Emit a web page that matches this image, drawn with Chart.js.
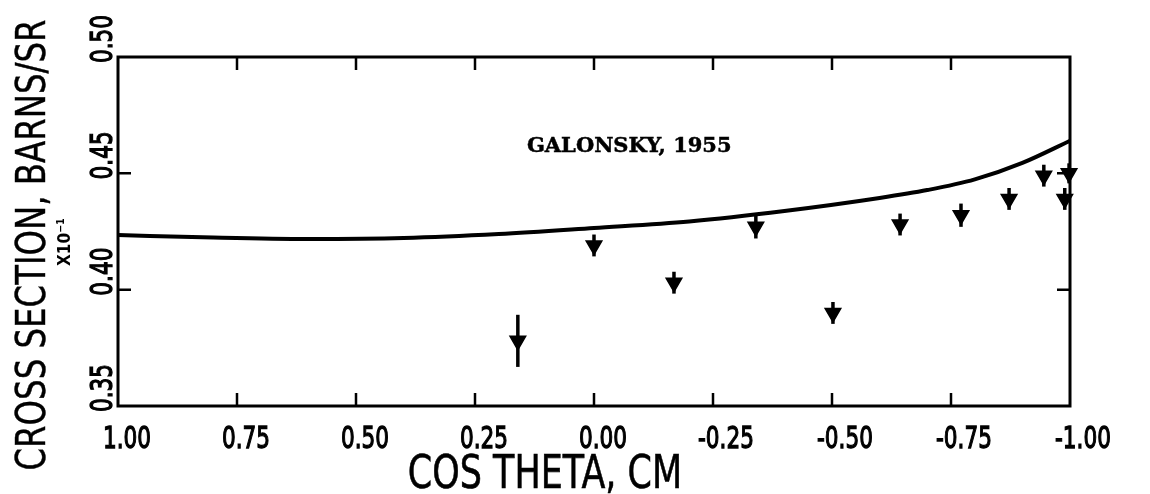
<!DOCTYPE html>
<html>
<head>
<meta charset="utf-8">
<script src="https://cdn.jsdelivr.net/npm/chart.js@4.4.1/dist/chart.umd.min.js"></script>
<style>
  html, body { margin: 0; padding: 0; background: #fff; }
  #galonskyChart { display: block; }
</style>
</head>
<body>
<canvas id="galonskyChart" width="1150" height="494"></canvas>
<script>
// Measured points (Galonsky, 1955)
let cosTheta = [0.16, 0.00, -0.168, -0.34, -0.502, -0.643, -0.771, -0.872, -0.945, -0.989, -0.998];
let crossSection = [0.378, 0.419, 0.403, 0.427, 0.390, 0.428, 0.432, 0.439, 0.449, 0.439, 0.450];
let crossSectionErr = [0.0112, 0.0047, 0.0047, 0.005, 0.0047, 0.0047, 0.005, 0.0047, 0.0047, 0.0047, 0.0043];

// Calculated curve
let curveCos = [1.0, 0.8, 0.6, 0.4, 0.2, 0.0, -0.2, -0.4, -0.6, -0.7, -0.8, -0.9, -1.0];
let curveValues = [0.4235, 0.4224, 0.4218, 0.4222, 0.4239, 0.4265, 0.4293, 0.4338, 0.4394, 0.4428, 0.4474, 0.4545, 0.4640];

// Axis ticks
let xTickValues = [1.00, 0.75, 0.50, 0.25, 0.00, -0.25, -0.50, -0.75, -1.00];
let xTickLabels = ["1.00", "0.75", "0.50", "0.25", "0.00", "-0.25", "-0.50", "-0.75", "-1.00"];
let yTickValues = [0.35, 0.40, 0.45, 0.50];
let yTickLabels = ["0.35", "0.40", "0.45", "0.50"];

let plotFont = '"DejaVu Sans", "Liberation Sans", sans-serif';

let drawLabel = (ctx, text, x, y, opts) => {
    ctx.save();
    ctx.translate(x, y);
    if (opts.rotate) ctx.rotate(opts.rotate);
    ctx.scale(opts.sx || 1, 1);
    ctx.font = opts.font;
    ctx.textAlign = opts.align || 'left';
    ctx.textBaseline = 'alphabetic';
    ctx.fillStyle = '#000';
    ctx.fillText(text, 0, 0);
    if (opts.stroke) {
        // thicken the strokes a little, like a plotter pen
        ctx.strokeStyle = '#000';
        ctx.lineWidth = opts.stroke;
        ctx.strokeText(text, 0, 0);
    }
    ctx.restore();
};

// error bars under the arrow heads
let errorBars = {
    id: 'errorBars',
    beforeDatasetsDraw: (chart) => {
        let ctx = chart.ctx;
        let x = chart.scales.x, y = chart.scales.y;
        ctx.save();
        ctx.strokeStyle = '#000';
        ctx.lineWidth = 3.5;
        cosTheta.forEach((c, i) => {
            let px = x.getPixelForValue(c);
            ctx.beginPath();
            ctx.moveTo(px, y.getPixelForValue(crossSection[i] + crossSectionErr[i]));
            ctx.lineTo(px, y.getPixelForValue(crossSection[i] - crossSectionErr[i]));
            ctx.stroke();
        });
        ctx.restore();
    }
};

// frame, inward ticks and all texts in the old plotter style
let plotterFrame = {
    id: 'plotterFrame',
    afterDraw: (chart) => {
        let ctx = chart.ctx;
        let a = chart.chartArea;
        let x = chart.scales.x, y = chart.scales.y;
        ctx.save();
        ctx.strokeStyle = '#000';
        ctx.lineWidth = 3;
        ctx.strokeRect(a.left, a.top, a.right - a.left, a.bottom - a.top);
        ctx.lineWidth = 2.5;
        xTickValues.slice(1, -1).forEach((v) => {
            let px = x.getPixelForValue(v);
            ctx.beginPath();
            ctx.moveTo(px, a.bottom); ctx.lineTo(px, a.bottom - 13);
            ctx.moveTo(px, a.top); ctx.lineTo(px, a.top + 13);
            ctx.stroke();
        });
        yTickValues.slice(1, -1).forEach((v) => {
            let py = y.getPixelForValue(v);
            ctx.beginPath();
            ctx.moveTo(a.left, py); ctx.lineTo(a.left + 13, py);
            ctx.moveTo(a.right, py); ctx.lineTo(a.right - 13, py);
            ctx.stroke();
        });
        ctx.restore();

        xTickValues.forEach((v, i) => {
            drawLabel(ctx, xTickLabels[i], x.getPixelForValue(v) - 15, a.bottom + 42,
                {font: '30px ' + plotFont, sx: 0.72, stroke: 1.3});
        });
        yTickValues.forEach((v, i) => {
            drawLabel(ctx, yTickLabels[i], a.left - 6, y.getPixelForValue(v) - 18,
                {font: '30px ' + plotFont, sx: 0.72, stroke: 1.3, rotate: -Math.PI / 2, align: 'center'});
        });

        drawLabel(ctx, 'COS THETA, CM', 545, 488, {font: '46px ' + plotFont, sx: 0.76, stroke: 0.6, align: 'center'});
        drawLabel(ctx, 'CROSS SECTION, BARNS/SR', 45, 245,
            {font: '40px ' + plotFont, sx: 0.81, stroke: 0.4, rotate: -Math.PI / 2, align: 'center'});
        drawLabel(ctx, 'X10\u207B\u00B9', 70, 242,
            {font: 'bold 18px ' + plotFont, sx: 0.85, rotate: -Math.PI / 2, align: 'center'});

        drawLabel(ctx, 'GALONSKY, 1955', x.getPixelForValue(0.141), y.getPixelForValue(0.4592),
            {font: 'bold 21px "DejaVu Serif", "Liberation Serif", serif', stroke: 0.5});
    }
};

let curvePoints = curveCos.map((c, i) => ({x: c, y: curveValues[i]}));
let dataPoints = cosTheta.map((c, i) => ({x: c, y: crossSection[i]}));

let context = document.getElementById('galonskyChart').getContext('2d');
new Chart(context, {
    type: 'scatter',
    data: {
        datasets: [{
            type: 'line',
            label: 'Calculation',
            data: curvePoints,
            borderColor: '#000',
            borderWidth: 4,
            pointRadius: 0,
            cubicInterpolationMode: 'monotone',
            fill: false
        }, {
            label: 'Galonsky, 1955',
            data: dataPoints,
            pointStyle: 'triangle',
            rotation: 180,
            pointRadius: 9,
            pointHoverRadius: 9,
            backgroundColor: '#000',
            borderColor: '#000',
            borderWidth: 1.5,
            clip: false
        }]
    },
    options: {
        responsive: false,
        animation: false,
        devicePixelRatio: 1,
        layout: {padding: {left: 118, top: 57, right: 80, bottom: 88}},
        plugins: {legend: {display: false}, tooltip: {enabled: false}},
        scales: {
            x: {type: 'linear', reverse: true, min: -1, max: 1, display: false},
            y: {type: 'linear', min: 0.35, max: 0.50, display: false}
        }
    },
    plugins: [errorBars, plotterFrame]
});
</script>
</body>
</html>
